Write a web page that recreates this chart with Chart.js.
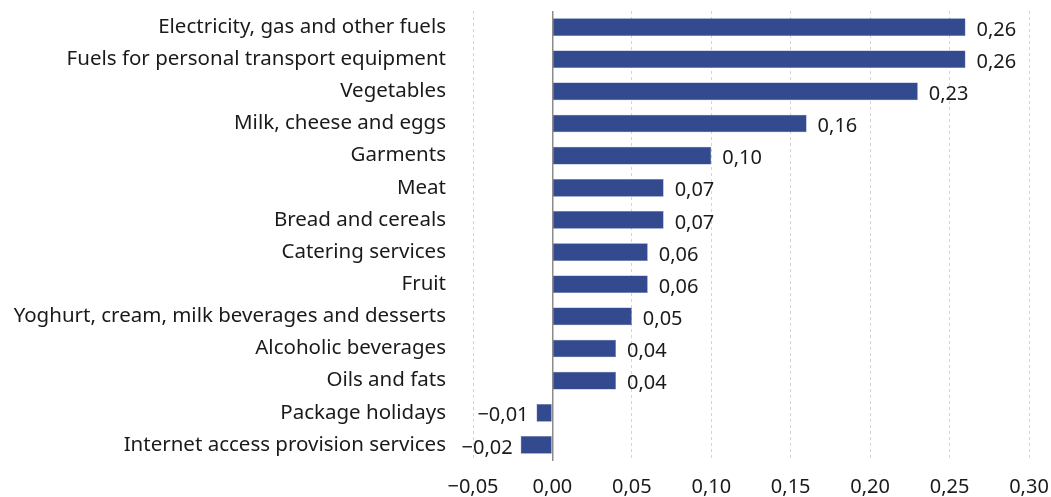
<!DOCTYPE html>
<html>
<head>
<meta charset="utf-8">
<script src="https://cdn.jsdelivr.net/npm/chart.js@4"></script>
<style>
  html, body { margin: 0; padding: 0; background: #fff; }
  #wrap { width: 1051px; height: 497px; }
</style>
</head>
<body>
<div id="wrap"><canvas id="barChart"></canvas></div>
<script>
const categories = [
    'Electricity, gas and other fuels',
    'Fuels for personal transport equipment',
    'Vegetables',
    'Milk, cheese and eggs',
    'Garments',
    'Meat',
    'Bread and cereals',
    'Catering services',
    'Fruit',
    'Yoghurt, cream, milk beverages and desserts',
    'Alcoholic beverages',
    'Oils and fats',
    'Package holidays',
    'Internet access provision services'
];
const values = [0.26, 0.26, 0.23, 0.16, 0.10, 0.07, 0.07, 0.06, 0.06, 0.05, 0.04, 0.04, -0.01, -0.02];
const xTicks = [-0.05, 0, 0.05, 0.10, 0.15, 0.20, 0.25, 0.30];

const FONT = "'Noto Sans', sans-serif";
// decimal comma, real minus sign
const fmt = v => v.toFixed(2).replace('.', ',').replace('-', '\u2212');

// value labels at the bar ends
const valueLabels = {
    id: 'valueLabels',
    afterDatasetsDraw(chart) {
        const ctx = chart.ctx;
        const meta = chart.getDatasetMeta(0);
        ctx.save();
        ctx.font = '20px ' + FONT;
        ctx.fillStyle = '#1a1a1a';
        ctx.textBaseline = 'middle';
        meta.data.forEach((bar, i) => {
            const v = values[i];
            if (v >= 0) {
                ctx.textAlign = 'left';
                ctx.fillText(fmt(v), bar.x + 11, bar.y + 3);
            } else {
                ctx.textAlign = 'right';
                ctx.fillText(fmt(v), bar.x - 8, bar.y + 3);
            }
        });
        ctx.restore();
    }
};

const ctx = document.getElementById('barChart').getContext('2d');
new Chart(ctx, {
    type: 'bar',
    data: {
        labels: categories,
        datasets: [{
            data: values,
            backgroundColor: '#334a8f',
            borderColor: '#5a6ea8',
            borderWidth: 0.5,
            barPercentage: 0.55,
            categoryPercentage: 1
        }]
    },
    options: {
        indexAxis: 'y',
        responsive: true,
        maintainAspectRatio: false,
        animation: false,
        layout: { padding: { top: 11, right: 22, left: 0, bottom: 0 } },
        plugins: {
            legend: { display: false },
            tooltip: { enabled: false }
        },
        scales: {
            x: {
                min: -0.05,
                max: 0.30,
                afterBuildTicks: scale => { scale.ticks = xTicks.map(v => ({ value: v })); },
                afterFit: scale => {
                    scale.height = 36;
                    scale.paddingLeft = 0;
                    scale.paddingRight = 0;
                },
                ticks: {
                    padding: 14,
                    color: '#1a1a1a',
                    font: { family: FONT, size: 20 },
                    callback: v => fmt(v)
                },
                grid: {
                    drawTicks: false,
                    color: ctx => ctx.tick && ctx.tick.value === 0 ? '#8c8c8c' : '#d4d4d4',
                    lineWidth: ctx => ctx.tick && ctx.tick.value === 0 ? 1.5 : 1
                },
                border: {
                    display: false,
                    dash: ctx => ctx.tick && ctx.tick.value === 0 ? [] : [3, 3]
                }
            },
            y: {
                afterFit: scale => {
                    scale.width = 473;
                    scale.paddingTop = 0;
                    scale.paddingBottom = 0;
                },
                ticks: {
                    padding: 27,
                    color: '#1a1a1a',
                    font: { family: FONT, size: 20.5 }
                },
                grid: { display: false, drawTicks: false },
                border: { display: false }
            }
        }
    },
    plugins: [valueLabels]
});
</script>
</body>
</html>
